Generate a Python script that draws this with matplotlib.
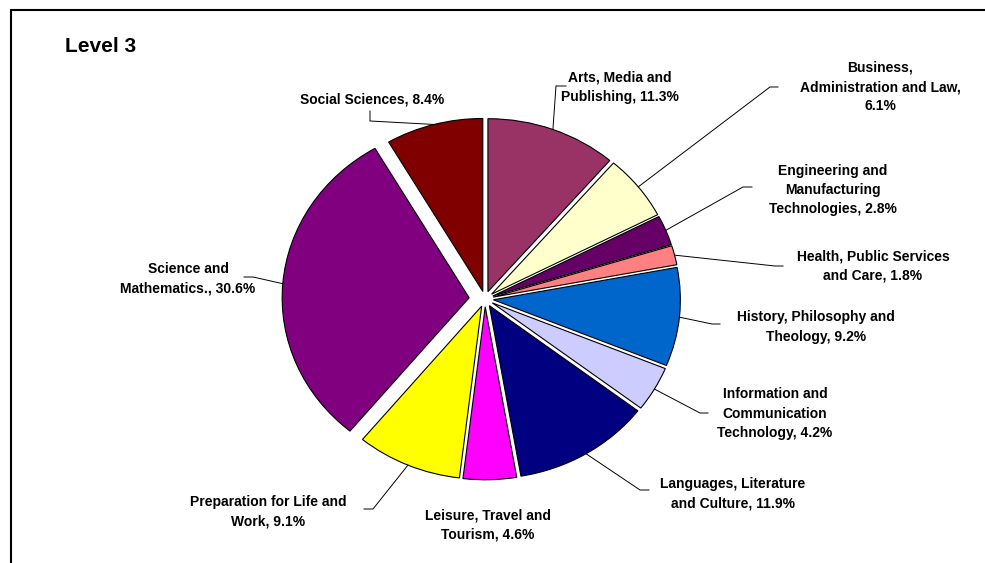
import numpy as np
import matplotlib.pyplot as plt

plt.rcParams['font.family'] = ['Liberation Sans', 'DejaVu Sans']

# data
categories = ['Arts, Media and\nPublishing', 'Business,\nAdministration and Law',
              'Engineering and\nManufacturing\nTechnologies', 'Health, Public Services\nand Care',
              'History, Philosophy and\nTheology', 'Information and\nCommunication\nTechnology',
              'Languages, Literature\nand Culture', 'Leisure, Travel and\nTourism',
              'Preparation for Life and\nWork', 'Science and\nMathematics.', 'Social Sciences']
shares = [11.3, 6.1, 2.8, 1.8, 9.2, 4.2, 11.9, 4.6, 9.1, 30.6, 8.4]
colors = ['#993366', '#FFFFCC', '#660066', '#FF8080', '#0066CC', '#CCCCFF',
          '#000080', '#FF00FF', '#FFFF00', '#800080', '#800000']
# short categories break the percentage onto a new line
pct_newline = [False, True, False, False, False, False, False, False, False, False, False]

# layout in image pixels
W, H = 985, 563
CX, CY = 485, 299
RX, RY = 187, 173

label_pos = [(620, 87), (880, 87), (833, 190), (873, 266), (816, 327), (775, 414),
             (733, 494), (488, 525), (268, 512), (188, 279), (372, 100)]
# (elbow, end) of each leader line, None = no line
leaders = [((556, 86), (566, 86)), ((770, 87), (778, 87)), ((743, 187), (752, 187)),
           ((775, 266), (783, 266)), ((712, 324), (720, 324)), ((700, 413), (708, 413)),
           ((640, 490), (649, 490)), None, ((373, 509), (364, 509)),
           ((253, 277), (244, 277)), ((370, 121), (370, 111))]


def px(x, y):
    return (x - CX) / RX, (CY - y) / RY


fig = plt.figure(figsize=(W / 100, H / 100), dpi=100)
ax = fig.add_axes([0, 0, 1, 1])

explode = [0.045] * len(shares)
explode[categories.index('Science and\nMathematics.')] = 0.085
wedges, _ = ax.pie(shares, colors=colors, explode=explode, startangle=90,
                   counterclock=False,
                   wedgeprops=dict(edgecolor='black', linewidth=0.8))
ax.set_aspect('auto')
ax.set_xlim(px(0, 0)[0], px(W, 0)[0])
ax.set_ylim(px(0, H)[1], px(0, 0)[1])
ax.axis('off')

for i, w in enumerate(wedges):
    sep = ',\n' if pct_newline[i] else ', '
    txt = '%s%s%.1f%%' % (categories[i], sep, shares[i])
    ax.text(*px(*label_pos[i]), txt, ha='center', va='center', multialignment='center',
            fontsize=10, fontweight='bold', linespacing=1.5)
    if leaders[i] is None:
        continue
    th = np.deg2rad((w.theta1 + w.theta2) / 2)
    ax0 = w.center[0] + w.r * np.cos(th)
    ay0 = w.center[1] + w.r * np.sin(th)
    e1 = px(*leaders[i][0])
    e2 = px(*leaders[i][1])
    ax.plot([ax0, e1[0], e2[0]], [ay0, e1[1], e2[1]], color='black', lw=0.7)

fig.text(65 / W, 1 - 47 / H, 'Level 3', fontsize=15, fontweight='bold', va='center')

# chart area border (runs off the right and bottom edge)
frame = plt.Rectangle((11 / W, -0.1), 1.2, 1 - 10 / H + 0.1, transform=fig.transFigure,
                      fill=False, edgecolor='black', lw=1.5)
fig.patches.append(frame)

fig.savefig('out.png', dpi=100)
